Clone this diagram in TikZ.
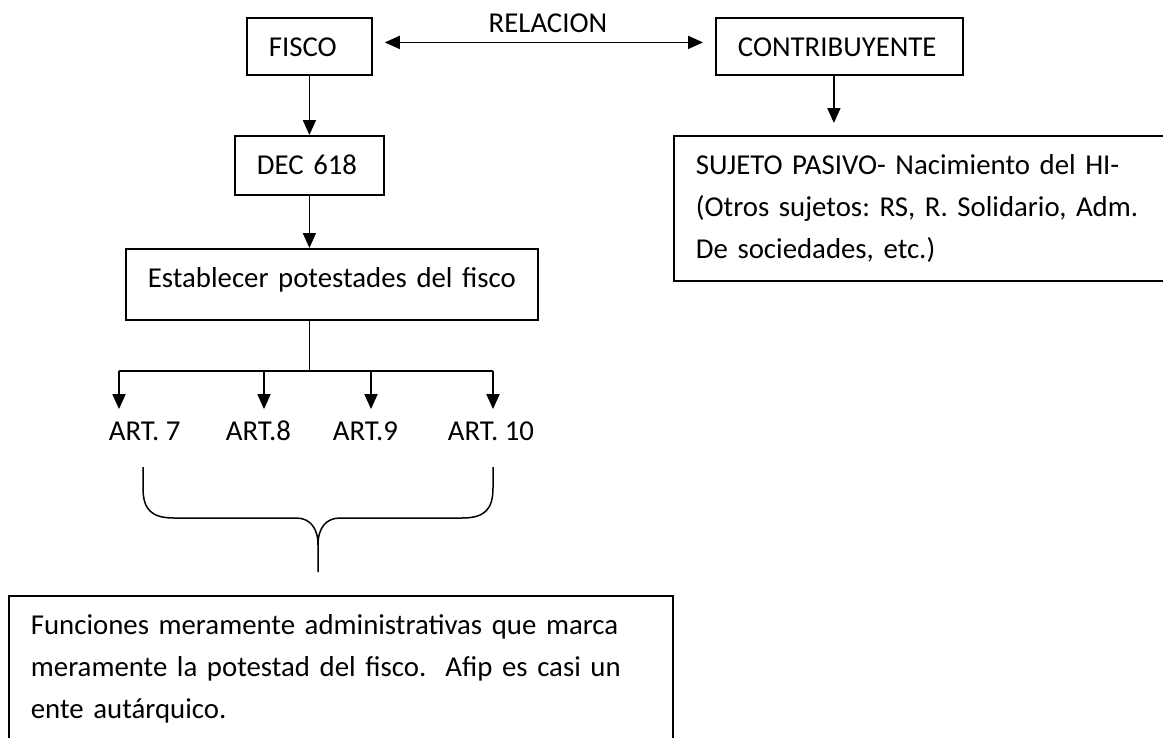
\documentclass[tikz,border=0pt]{standalone}
\usepackage{fontspec}
\setmainfont{Carlito}
\usetikzlibrary{arrows.meta}
\frenchspacing

\begin{document}
\begin{tikzpicture}[x=1pt,y=-1pt,line width=1.8pt,
        font={\fontsize{28.8}{42}\selectfont}]
        \tikzset{Caja/.style={draw, anchor=north west, align=left,
                inner xsep=22pt, inner ysep=0pt, text height=39pt},
                Art/.style={anchor=base west, inner sep=0pt, text height=30pt},
                Flecha/.style={-{Triangle[length=15pt,width=13pt]}},
                Doble/.style={{Triangle[length=15pt,width=13pt]}-{Triangle[length=15pt,width=13pt]}}}
        \useasboundingbox (0,0) rectangle (1163,737);
        % cajas
        \node[Caja, text width=81pt, text depth=18pt] (fisco) at (246,17) {FISCO};
        \node[Caja, text width=203pt, text depth=18pt] (contrib) at (715,17) {CONTRIBUYENTE};
        \node[Caja, text width=105pt, text depth=20pt] (dec) at (234,135) {DEC 618};
        \node[Caja, text width=368pt, text depth=32pt] (estab) at (125,248) {Establecer potestades del fisco};
        \node[Caja, text width=476pt, text depth=106pt] (sujeto) at (673,135)
                {SUJETO PASIVO- Nacimiento del HI-\\(Otros sujetos: RS, R. Solidario, Adm.\\De sociedades, etc.)};
        \node[Caja, text width=620pt, text depth=200pt] (funciones) at (8,595)
                {Funciones meramente administrativas que marca\\meramente la potestad del fisco.\ \ Afip es casi un\\ente aut\'arquico.};
        \node[anchor=base] (relacion) at (548,32) {RELACION};
        % articulos
        \node[Art] (art7) at (108,440) {ART. 7};
        \node[Art] (art8) at (225,440) {ART.8};
        \node[Art] (art9) at (332,440) {ART.9};
        \node[Art] (art10) at (447,440) {ART. 10};
        \coordinate (b7) at (119,371);
        \coordinate (b8) at (264,371);
        \coordinate (b9) at (371,371);
        \coordinate (b10) at (493,371);
        % flechas
        \draw[Doble, shorten <=12pt, shorten >=12pt] ([yshift=4pt]fisco.east) -- ([yshift=4pt]contrib.west);
        \draw[Flecha] (fisco) -- (dec);
        \draw[Flecha] (dec.south) -- (dec.south |- estab.north);
        \draw[Flecha, shorten >=12pt] ([xshift=-5.5pt]contrib.south) -- ([xshift=-5.5pt]contrib.south |- sujeto.north);
        \draw (dec.south |- estab.south) -- (dec.south |- b7);
        \draw (b7) -- (b10);
        \foreach \n in {7,8,9,10}
                \draw[Flecha] (b\n) -- (b\n |- art\n.north);
        % llave
        \draw[line width=1.5pt] (143,467) -- (143,488) .. controls (143,510) and (152,518) .. (174,518) -- (296,518)
                .. controls (310,518) and (318,528) .. (318,545) -- (318,572);
        \draw[line width=1.5pt] (493,467) -- (493,488) .. controls (493,510) and (484,518) .. (462,518) -- (340,518)
                .. controls (326,518) and (318,528) .. (318,545);
\end{tikzpicture}
\end{document}
